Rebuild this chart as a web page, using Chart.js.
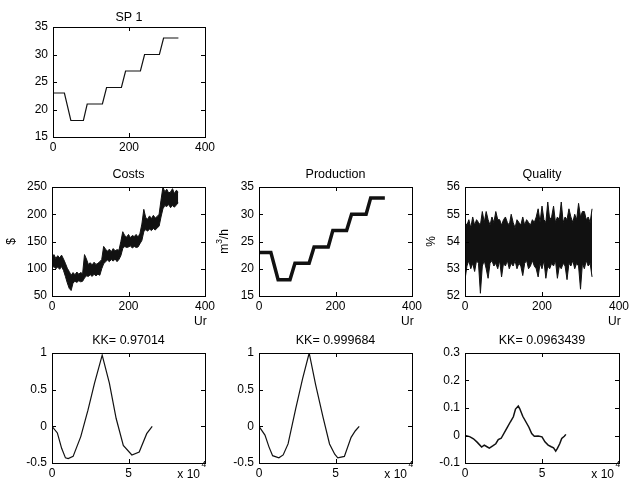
<!DOCTYPE html>
<html>
<head>
<meta charset="utf-8">
<script src="https://cdn.jsdelivr.net/npm/chart.js@4"></script>
<style>
  body { margin: 0; background: #fff; }
  #fig { position: relative; width: 629px; height: 479px; overflow: hidden; background: #fff; }
  #fig canvas { position: absolute; }
</style>
</head>
<body>
<div id="fig"></div>
<script>
// SP 1 setpoint (Ur vs m3/h)
const spX = [0, 30, 47, 80, 90, 130, 141, 180, 191, 230, 241, 280, 291, 330];
const spY = [23, 23, 18, 18, 21, 21, 24, 24, 27, 27, 30, 30, 33, 33];

// Production follows setpoint (drawn as a thick band)
const prodX = [0, 31, 50, 81, 94, 131, 144, 181, 193, 229, 242, 280, 292, 329];
const prodY = [23, 23, 18, 18, 21, 21, 24, 24, 27, 27, 30, 30, 33, 33];

// sample times for the noisy signals
const sampleT = [0, 5, 10, 15, 20, 25, 30, 35, 40, 45, 50, 55, 60, 65, 70, 75, 80, 85, 90, 95,
  100, 105, 110, 115, 120, 125, 130, 135, 140, 145, 150, 155, 160, 165, 170, 175, 180, 185, 190, 195,
  200, 205, 210, 215, 220, 225, 230, 235, 240, 245, 250, 255, 260, 265, 270, 275, 280, 285, 290, 295,
  300, 305, 310, 315, 320, 325, 330];

// Costs envelope
const costsHigh = [121, 126, 119, 124, 120, 125, 118, 110, 101, 95,
  88, 93, 89, 94, 90, 93, 91, 126, 118, 108,
  111, 107, 112, 108, 110, 113, 117, 141, 136, 132,
  136, 131, 137, 133, 135, 134, 150, 168, 161, 158,
  163, 157, 161, 159, 163, 158, 165, 182, 209, 194,
  191, 197, 192, 198, 193, 196, 200, 226, 250, 241,
  246, 239, 241, 247, 238, 244, 241];
const costsLow = [101, 104, 100, 103, 99, 104, 97, 86, 74, 64,
  60, 74, 77, 75, 78, 76, 77, 83, 87, 86,
  89, 86, 90, 87, 90, 88, 100, 109, 113, 116,
  113, 117, 114, 118, 113, 117, 124, 137, 141, 139,
  140, 142, 138, 141, 139, 140, 146, 152, 168, 172,
  169, 173, 170, 174, 171, 175, 178, 195, 210, 216,
  214, 218, 212, 216, 213, 217, 221];

// Quality envelope
const qualHigh = [54.7, 54.6, 54.8, 54.5, 54.9, 54.6, 54.8, 54.7, 54.6, 55.1,
  54.7, 55.1, 54.8, 54.6, 54.9, 54.7, 55.1, 54.8, 54.8, 54.6,
  54.8, 54.9, 54.7, 54.6, 55.0, 54.7, 54.5, 54.8, 54.7, 54.6,
  54.9, 54.6, 54.8, 54.7, 54.6, 54.8, 54.7, 54.9, 55.2, 54.7,
  55.3, 54.8, 54.7, 55.45, 54.8, 54.9, 55.3, 54.7, 54.9, 54.8,
  55.45, 54.7, 54.9, 54.8, 55.2, 54.9, 54.7, 55.0, 54.8, 55.4,
  54.9, 55.1, 55.1, 54.8, 54.9, 54.7, 55.2];
const qualLow = [52.6, 53.1, 53.3, 53.0, 53.2, 52.9, 53.3, 53.2, 52.1, 53.1,
  53.3, 53.0, 52.65, 53.2, 53.3, 53.1, 53.2, 53.0, 53.3, 52.7,
  53.2, 53.1, 53.3, 53.0, 53.2, 53.1, 53.3, 53.0, 53.2, 53.1,
  52.75, 53.2, 53.3, 53.0, 53.1, 53.3, 53.1, 53.0, 52.7, 53.2,
  53.0, 53.3, 52.65, 53.1, 53.0, 53.2, 53.1, 53.3, 52.65, 53.1,
  53.0, 53.2, 53.1, 52.6, 53.2, 53.1, 53.3, 53.0, 53.2, 53.1,
  52.25, 53.2, 53.0, 53.3, 53.1, 53.2, 52.7];

// cross correlations, lag in units of 10^4
const kk1X = [0, 0.35, 0.63, 0.88, 1.06, 1.38, 1.88, 2.35, 2.78, 3.28, 3.75, 4.19, 4.66, 5.22, 5.70, 6.19, 6.55];
const kk1Y = [0, -0.09, -0.30, -0.43, -0.44, -0.41, -0.14, 0.22, 0.59, 0.97, 0.59, 0.11, -0.26, -0.39, -0.35, -0.10, 0];
const kk2X = [0, 0.39, 0.65, 0.89, 1.30, 1.58, 1.90, 2.40, 2.85, 3.28, 3.70, 4.18, 4.61, 4.95, 5.15, 5.58, 6.02, 6.30, 6.55];
const kk2Y = [0, -0.12, -0.28, -0.40, -0.43, -0.39, -0.24, 0.24, 0.65, 1.0, 0.57, 0.13, -0.24, -0.38, -0.43, -0.41, -0.15, -0.06, 0];
const kk3X = [0, 0.3, 0.55, 0.8, 1.08, 1.25, 1.4, 1.58, 1.8, 2.0, 2.16, 2.35, 2.71, 2.95, 3.14, 3.28, 3.46, 3.55,
  3.75, 3.95, 4.15, 4.33, 4.5, 4.75, 5.0, 5.19, 5.4, 5.6, 5.75, 5.89, 6.0, 6.15, 6.28, 6.45, 6.55];
const kk3Y = [0, -0.004, -0.012, -0.025, -0.042, -0.035, -0.04, -0.046, -0.038, -0.03, -0.015, -0.01, 0.026, 0.05,
  0.068, 0.096, 0.107, 0.098, 0.07, 0.05, 0.03, 0.007, -0.003, -0.002, -0.005, -0.023, -0.035, -0.041, -0.045,
  -0.057, -0.047, -0.03, -0.011, -0.003, 0.004];

// tick labels
const urTicks = [0, 200, 400];
const lagTicks = [0, 5];
const spTicks = [15, 20, 25, 30, 35];
const costTicks = [50, 100, 150, 200, 250];
const qualTicks = [52, 53, 54, 55, 56];
const kkTicks = [-0.5, 0, 0.5, 1];
const kk3Ticks = [-0.1, 0, 0.1, 0.2, 0.3];

const FONT = '"Liberation Sans", Arial, Helvetica, sans-serif';
const PAD_L = 50, PAD_T = 30, PAD_R = 30, PAD_B = 35;
const INK = '#111';

function pts(xs, ys) {
  return xs.map((x, i) => ({ x, y: ys[i] }));
}

function line(xs, ys, w) {
  return { data: pts(xs, ys), borderColor: INK, borderWidth: w, pointRadius: 0, fill: false, tension: 0 };
}

function band(xs, lo, hi) {
  return [
    { data: pts(xs, lo), borderColor: INK, borderWidth: 1, pointRadius: 0, fill: false, tension: 0 },
    { data: pts(xs, hi), borderColor: INK, borderWidth: 1, pointRadius: 0, fill: '-1', backgroundColor: INK, tension: 0 }
  ];
}

function fmt(v) {
  return String(Math.round(v * 1000) / 1000);
}

function decorFor(p) {
  return {
    id: 'decor',
    afterDraw(chart) {
      const ctx = chart.ctx;
      const a = chart.chartArea;
      const xs = chart.scales.x, ys = chart.scales.y;
      ctx.save();
      ctx.strokeStyle = '#000';
      ctx.lineWidth = 1;
      ctx.strokeRect(a.left + 0.5, a.top + 0.5, a.width, a.height);

      // inward ticks on all four sides
      ctx.beginPath();
      xs.ticks.forEach(t => {
        const px = Math.round(xs.getPixelForValue(t.value)) + 0.5;
        if (px < a.left + 2 || px > a.right - 1) return;
        ctx.moveTo(px, a.bottom); ctx.lineTo(px, a.bottom - 4);
        ctx.moveTo(px, a.top); ctx.lineTo(px, a.top + 4);
      });
      ys.ticks.forEach(t => {
        const py = Math.round(ys.getPixelForValue(t.value)) + 0.5;
        if (py < a.top + 2 || py > a.bottom - 1) return;
        ctx.moveTo(a.left, py); ctx.lineTo(a.left + 4, py);
        ctx.moveTo(a.right, py); ctx.lineTo(a.right - 4, py);
      });
      ctx.stroke();

      ctx.fillStyle = '#000';
      ctx.font = '12.5px ' + FONT;
      ctx.textAlign = 'center';
      ctx.textBaseline = 'alphabetic';
      ctx.fillText(p.title, (a.left + a.right) / 2, a.top - p.titleDy);

      if (p.ylabel) {
        ctx.save();
        ctx.translate(a.left + p.ylabelDx, (a.top + a.bottom) / 2);
        ctx.rotate(-Math.PI / 2);
        ctx.textBaseline = 'middle';
        ctx.textAlign = 'left';
        const widths = p.ylabel.map(s => {
          ctx.font = (s.sup ? '8.5px ' : '12px ') + FONT;
          return ctx.measureText(s.t).width;
        });
        let x = -widths.reduce((u, v) => u + v, 0) / 2;
        p.ylabel.forEach((s, i) => {
          ctx.font = (s.sup ? '8.5px ' : '12px ') + FONT;
          ctx.fillText(s.t, x, s.sup ? -5 : 0);
          x += widths[i];
        });
        ctx.restore();
      }

      if (p.xlabel === 'Ur') {
        ctx.font = '12px ' + FONT;
        ctx.textAlign = 'left';
        ctx.fillText('Ur', a.right - 11, a.bottom + 29);
      } else if (p.xlabel === 'exp') {
        ctx.font = '12px ' + FONT;
        ctx.textAlign = 'right';
        ctx.fillText('x 10', a.right - 5, a.bottom + 14.5);
        ctx.font = '8.5px ' + FONT;
        ctx.textAlign = 'left';
        ctx.fillText('4', a.right - 3.5, a.bottom + 4);
      }
      ctx.restore();
    }
  };
}

function axis(min, max, ticks, isX) {
  return {
    type: 'linear',
    min, max,
    afterBuildTicks: s => { s.ticks = ticks.map(v => ({ value: v })); },
    afterFit: s => { if (isX) s.height = PAD_B; else s.width = PAD_L; },
    grid: { display: false, drawTicks: false },
    border: { display: false },
    ticks: {
      font: { family: FONT, size: 12 },
      color: '#000',
      padding: isX ? 3 : 5,
      maxRotation: 0,
      autoSkip: false,
      callback: fmt
    }
  };
}

const panels = [
  { box: [53, 27, 152, 110], title: 'SP 1', titleDy: 6,
    x: [0, 400, urTicks], y: [15, 35, spTicks], datasets: [line(spX, spY, 1.2)] },
  { box: [52, 187, 153, 109], title: 'Costs', titleDy: 9.5, xlabel: 'Ur',
    ylabel: [{ t: '$' }], ylabelDx: -40,
    x: [0, 400, urTicks], y: [50, 250, costTicks], datasets: band(sampleT, costsLow, costsHigh) },
  { box: [259, 187, 153, 109], title: 'Production', titleDy: 9.5, xlabel: 'Ur',
    ylabel: [{ t: 'm' }, { t: '3', sup: true }, { t: '/h' }], ylabelDx: -34,
    x: [0, 400, urTicks], y: [15, 35, spTicks], datasets: [line(prodX, prodY, 3.5)] },
  { box: [465, 187, 154, 109], title: 'Quality', titleDy: 9.5, xlabel: 'Ur',
    ylabel: [{ t: '%' }], ylabelDx: -33,
    x: [0, 400, urTicks], y: [52, 56, qualTicks], datasets: band(sampleT, qualLow, qualHigh) },
  { box: [52, 353, 153, 110], title: 'KK= 0.97014', titleDy: 9.5, xlabel: 'exp',
    x: [0, 10, lagTicks], y: [-0.5, 1, kkTicks], datasets: [line(kk1X, kk1Y, 1.2)] },
  { box: [259, 353, 153, 110], title: 'KK= 0.999684', titleDy: 9.5, xlabel: 'exp',
    x: [0, 10, lagTicks], y: [-0.5, 1, kkTicks], datasets: [line(kk2X, kk2Y, 1.2)] },
  { box: [465, 353, 154, 110], title: 'KK= 0.0963439', titleDy: 9.5, xlabel: 'exp',
    x: [0, 10, lagTicks], y: [-0.1, 0.3, kk3Ticks], datasets: [line(kk3X, kk3Y, 1.5)] }
];

const fig = document.getElementById('fig');
panels.forEach(p => {
  const [bx, by, bw, bh] = p.box;
  const cv = document.createElement('canvas');
  cv.width = PAD_L + bw + PAD_R;
  cv.height = PAD_T + bh + PAD_B;
  cv.style.left = (bx - PAD_L) + 'px';
  cv.style.top = (by - PAD_T) + 'px';
  cv.style.width = cv.width + 'px';
  cv.style.height = cv.height + 'px';
  fig.appendChild(cv);

  new Chart(cv.getContext('2d'), {
    type: 'line',
    data: { datasets: p.datasets },
    options: {
      responsive: false,
      animation: false,
      devicePixelRatio: 1,
      events: [],
      layout: { padding: { left: 0, top: PAD_T, right: PAD_R, bottom: 0 } },
      plugins: { legend: { display: false }, tooltip: { enabled: false }, title: { display: false } },
      scales: {
        x: axis(p.x[0], p.x[1], p.x[2], true),
        y: axis(p.y[0], p.y[1], p.y[2], false)
      }
    },
    plugins: [decorFor(p)]
  });
});
</script>
</body>
</html>
